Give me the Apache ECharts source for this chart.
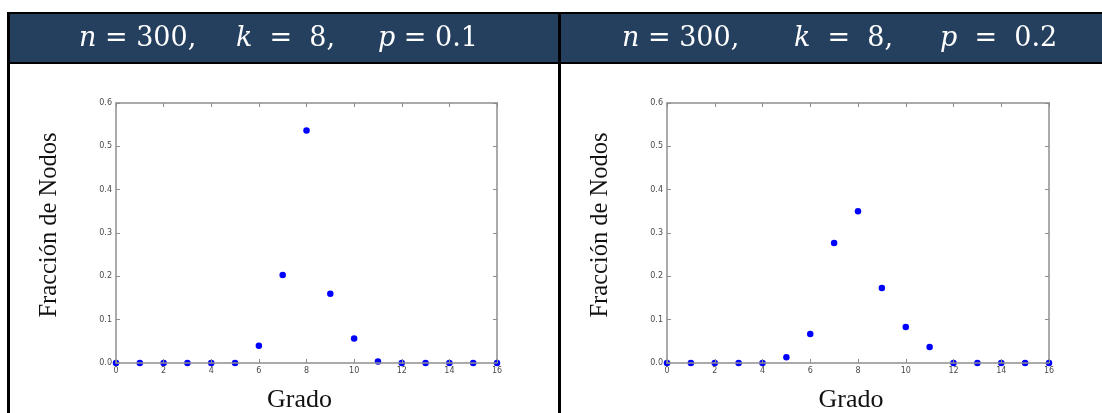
<!DOCTYPE html>
<html>
<head>
<meta charset="utf-8">
<script src="https://cdn.jsdelivr.net/npm/echarts@6/dist/echarts.min.js"></script>
<style>
  html, body { margin: 0; padding: 0; background: #ffffff; }
  #chart { width: 1102px; height: 413px; }
</style>
</head>
<body>
<div id="chart"></div>
<script>
// Degree distribution of Watts–Strogatz networks (n nodes, k neighbours, rewiring p)
const degrees = [0, 1, 2, 3, 4, 5, 6, 7, 8, 9, 10, 11, 12, 13, 14, 15, 16];
const fractionP01 = [0, 0, 0, 0, 0, 0, 0.04, 0.2033, 0.5367, 0.16, 0.0567, 0.0033, 0, 0, 0, 0, 0];
const fractionP02 = [0, 0, 0, 0, 0, 0.0133, 0.0667, 0.2767, 0.35, 0.1733, 0.0833, 0.0367, 0, 0, 0, 0, 0];

const panelN = [300, 300];
const panelK = [8, 8];
const panelP = ['0.1', '0.2'];

const xTicks = { min: 0, max: 16, interval: 2 };
const yTicks = { min: 0, max: 0.6, interval: 0.1 };

const yTitle = 'Fracción de Nodos';
const xTitle = 'Grado';

const headerBlue = '#25405f';
const frameGray = '#8e8e8e';
const tickText = '#4a4a4a';
const serif = '"DejaVu Serif", "Liberation Serif", serif';
const latexSerif = '"Liberation Serif", "DejaVu Serif", serif';

const chart = echarts.init(document.getElementById('chart'), null, { renderer: 'canvas' });

const gridBoxes = [
  { left: 116, top: 103, width: 381, height: 260 },
  { left: 667, top: 103, width: 382, height: 260 }
];

const grids = gridBoxes.map(g => Object.assign({ containLabel: false, outerBoundsMode: 'none' }, g));

const frameLine = { show: true, onZero: false, lineStyle: { color: frameGray, width: 1.5 } };
const innerTicks = { show: true, inside: true, length: 4, lineStyle: { color: frameGray } };

const xAxes = [];
const yAxes = [];
gridBoxes.forEach((g, i) => {
  // bottom axis with labels and title
  xAxes.push({
    type: 'value', gridIndex: i, position: 'bottom',
    min: xTicks.min, max: xTicks.max, interval: xTicks.interval,
    name: xTitle, nameLocation: 'middle', nameGap: 24,
    nameTextStyle: { fontFamily: latexSerif, fontSize: 26, color: '#111', padding: [0, 14, 0, 0] },
    axisLine: frameLine,
    axisTick: innerTicks,
    axisLabel: { fontFamily: '"DejaVu Sans", sans-serif', fontSize: 8, color: tickText, margin: 4 },
    splitLine: { show: false },
    z: 5
  });
  // top frame with inward ticks
  xAxes.push({
    type: 'value', gridIndex: i, position: 'top',
    min: xTicks.min, max: xTicks.max, interval: xTicks.interval,
    axisLine: frameLine,
    axisTick: innerTicks,
    axisLabel: { show: false },
    splitLine: { show: false }
  });
  // left axis with labels and title
  yAxes.push({
    type: 'value', gridIndex: i, position: 'left',
    min: yTicks.min, max: yTicks.max, interval: yTicks.interval,
    name: yTitle, nameLocation: 'middle', nameGap: 54, nameRotate: 90,
    nameTextStyle: { fontFamily: latexSerif, fontSize: 24.5, color: '#111', padding: [0, 0, 0, 16] },
    axisLine: frameLine,
    axisTick: innerTicks,
    axisLabel: {
      fontFamily: '"DejaVu Sans", sans-serif', fontSize: 8, color: tickText, margin: 4,
      formatter: v => v.toFixed(1)
    },
    splitLine: { show: false },
    z: 5
  });
  // right frame with inward ticks
  yAxes.push({
    type: 'value', gridIndex: i, position: 'right',
    min: yTicks.min, max: yTicks.max, interval: yTicks.interval,
    axisLine: frameLine,
    axisTick: innerTicks,
    axisLabel: { show: false },
    splitLine: { show: false }
  });
});

const seriesData = [fractionP01, fractionP02];
const series = seriesData.map((vals, i) => ({
  type: 'scatter',
  xAxisIndex: i * 2,
  yAxisIndex: i * 2,
  data: degrees.map((d, j) => [d, vals[j]]),
  symbol: 'circle',
  symbolSize: 6.5,
  itemStyle: { color: '#0000ff', opacity: 1 },
  z: 1
}));

// Table frame: header band, outer borders and the cell divider
const tableTop = 12;
const headerBottom = 62;
const leftEdge = 7;
const divider = 558;

// Header text pieces (variable in italic, rest upright)
const headerX = [
  [79, 236, 378],
  [622, 794, 940]
];
function headerPieces(i) {
  const parts = [
    { v: 'n', rest: ' = ' + panelN[i] + ',' },
    { v: 'k', rest: '  =  ' + panelK[i] + ',' },
    { v: 'p', rest: (i === 0 ? ' = ' : '  =  ') + panelP[i] }
  ];
  return parts.map((p, j) => ({
    type: 'text',
    x: headerX[i][j],
    y: 39,
    style: {
      text: '{v|' + p.v + '}{r|' + p.rest + '}',
      verticalAlign: 'middle',
      rich: {
        v: { fontFamily: serif, fontStyle: 'italic', fontSize: 27, fill: '#ffffff' },
        r: { fontFamily: serif, fontSize: 27, fill: '#ffffff' }
      }
    }
  }));
}

const graphics = [
  { type: 'rect', shape: { x: leftEdge, y: tableTop, width: 1102 - leftEdge, height: headerBottom - tableTop }, style: { fill: headerBlue }, z: -1 },
  { type: 'rect', shape: { x: leftEdge, y: tableTop, width: 1102 - leftEdge, height: 2 }, style: { fill: '#000' } },
  { type: 'rect', shape: { x: leftEdge, y: headerBottom, width: 1102 - leftEdge, height: 2 }, style: { fill: '#000' } },
  { type: 'rect', shape: { x: leftEdge, y: tableTop, width: 3, height: 413 - tableTop }, style: { fill: '#000' } },
  { type: 'rect', shape: { x: divider, y: tableTop, width: 3, height: 413 - tableTop }, style: { fill: '#000' } }
].concat(headerPieces(0), headerPieces(1));

chart.setOption({
  backgroundColor: '#ffffff',
  animation: false,
  grid: grids,
  xAxis: xAxes,
  yAxis: yAxes,
  series: series,
  graphic: graphics
});
</script>
</body>
</html>
